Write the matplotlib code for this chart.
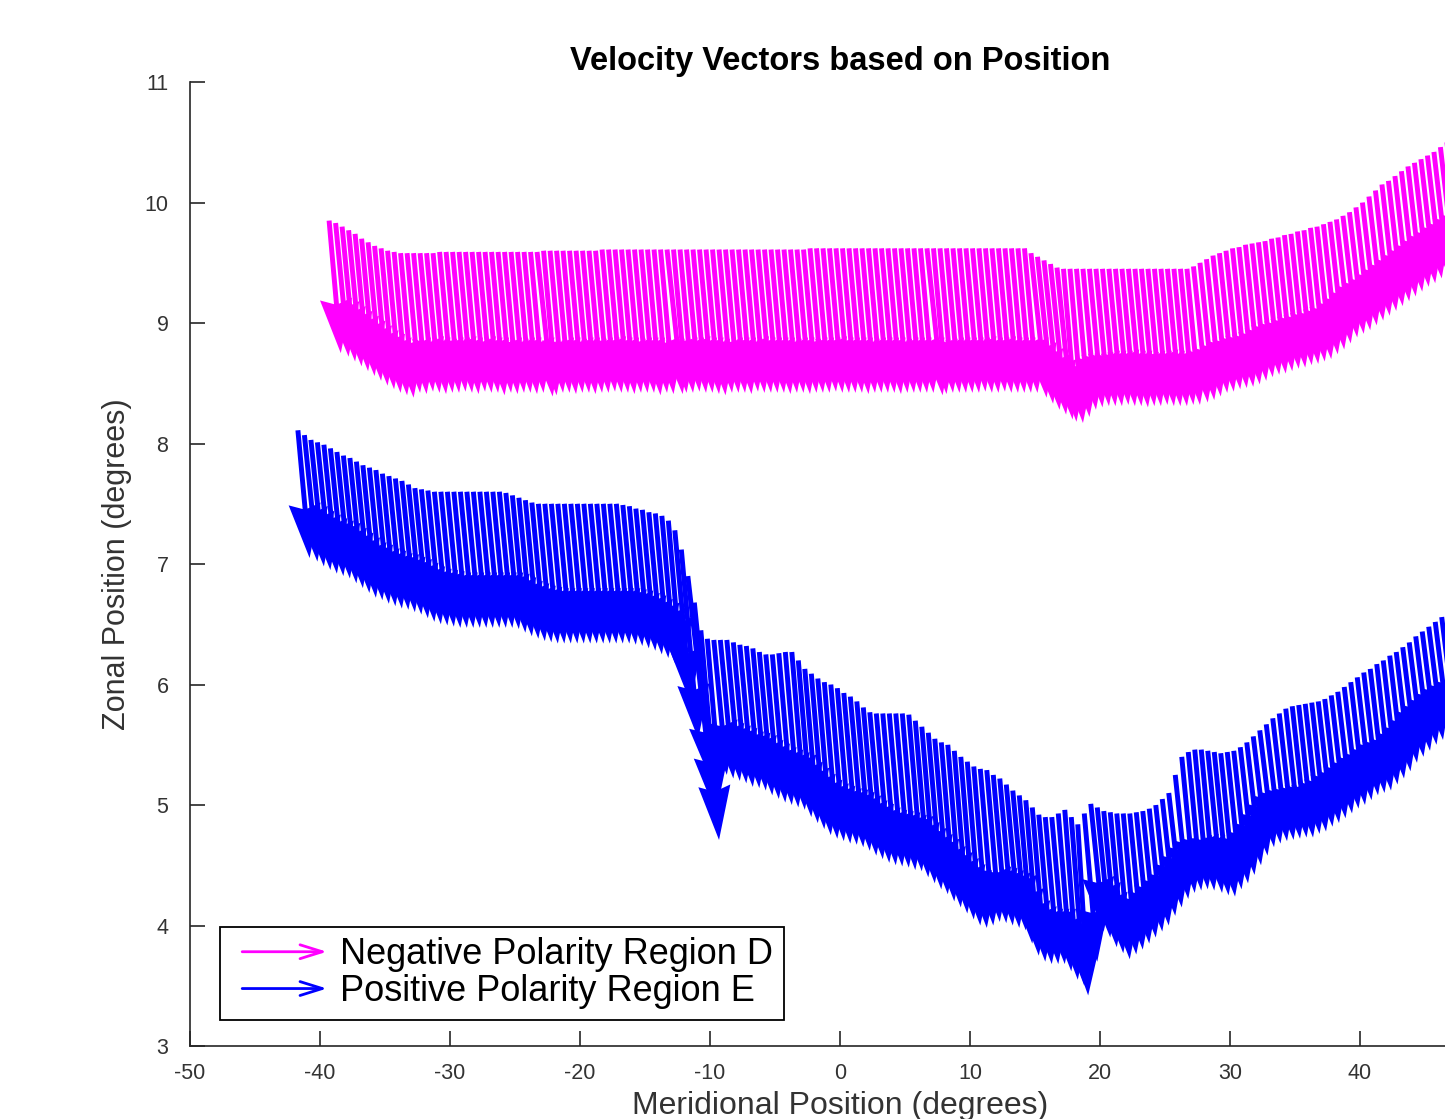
import numpy as np
import matplotlib
matplotlib.use('Agg')
import matplotlib.pyplot as plt
from matplotlib.lines import Line2D
from matplotlib.patches import FancyArrowPatch
from matplotlib.legend_handler import HandlerBase

plt.rcParams['font.family'] = 'Liberation Sans'
plt.rcParams['axes.unicode_minus'] = False

# ---- Negative Polarity Region D (magenta): tail x, tail y, tip y, x drift ----
mag_x = [-39.3, -38.8, -38.3, -37.8, -37.3, -36.8, -36.3, -35.8, -35.3, -34.8,
         -34.3, -33.8, -33.3, -32.8, -32.3, -31.8, -31.3, -30.8, -30.3, -29.8,
         -29.3, -28.8, -28.3, -27.8, -27.3, -26.8, -26.3, -25.8, -25.3, -24.8,
         -24.3, -23.8, -23.3, -22.8, -22.3, -21.8, -21.3, -20.8, -20.3, -19.8,
         -19.3, -18.8, -18.3, -17.8, -17.3, -16.8, -16.3, -15.8, -15.3, -14.8,
         -14.3, -13.8, -13.3, -12.8, -12.3, -11.8, -11.3, -10.8, -10.3, -9.8,
         -9.3, -8.8, -8.3, -7.8, -7.3, -6.8, -6.3, -5.8, -5.3, -4.8,
         -4.3, -3.8, -3.3, -2.8, -2.3, -1.8, -1.3, -0.8, -0.3, 0.2,
         0.7, 1.2, 1.7, 2.2, 2.7, 3.2, 3.7, 4.2, 4.7, 5.2,
         5.7, 6.2, 6.7, 7.2, 7.7, 8.2, 8.7, 9.2, 9.7, 10.2,
         10.7, 11.2, 11.7, 12.2, 12.7, 13.2, 13.7, 14.2, 14.7, 15.2,
         15.7, 16.2, 16.7, 17.2, 17.7, 18.2, 18.7, 19.2, 19.7, 20.2,
         20.7, 21.2, 21.7, 22.2, 22.7, 23.2, 23.7, 24.2, 24.7, 25.2,
         25.7, 26.2, 26.7, 27.2, 27.7, 28.2, 28.7, 29.2, 29.7, 30.2,
         30.7, 31.2, 31.7, 32.2, 32.7, 33.2, 33.7, 34.2, 34.7, 35.2,
         35.7, 36.2, 36.7, 37.2, 37.7, 38.2, 38.7, 39.2, 39.7, 40.2,
         40.7, 41.2, 41.7, 42.2, 42.7, 43.2, 43.7, 44.2, 44.7, 45.2,
         45.7, 46.2, 46.7]
mag_y = [9.85, 9.83, 9.80, 9.77, 9.74, 9.70, 9.67, 9.64, 9.62, 9.60,
         9.59, 9.58, 9.58, 9.58, 9.58, 9.58, 9.58, 9.59, 9.59, 9.59,
         9.59, 9.59, 9.59, 9.59, 9.59, 9.59, 9.59, 9.59, 9.59, 9.59,
         9.59, 9.59, 9.59, 9.60, 9.60, 9.60, 9.60, 9.60, 9.60, 9.60,
         9.60, 9.60, 9.61, 9.61, 9.61, 9.61, 9.61, 9.61, 9.61, 9.61,
         9.61, 9.61, 9.61, 9.61, 9.61, 9.61, 9.61, 9.61, 9.61, 9.61,
         9.61, 9.61, 9.61, 9.61, 9.61, 9.61, 9.61, 9.61, 9.61, 9.61,
         9.61, 9.61, 9.61, 9.61, 9.62, 9.62, 9.62, 9.62, 9.62, 9.62,
         9.62, 9.62, 9.62, 9.62, 9.62, 9.62, 9.62, 9.62, 9.62, 9.62,
         9.62, 9.62, 9.62, 9.62, 9.62, 9.62, 9.62, 9.62, 9.62, 9.62,
         9.62, 9.62, 9.62, 9.62, 9.62, 9.62, 9.62, 9.62, 9.58, 9.55,
         9.52, 9.49, 9.46, 9.45, 9.45, 9.45, 9.45, 9.45, 9.45, 9.45,
         9.45, 9.45, 9.45, 9.45, 9.45, 9.45, 9.45, 9.45, 9.45, 9.45,
         9.45, 9.45, 9.45, 9.47, 9.50, 9.53, 9.56, 9.58, 9.60, 9.62,
         9.63, 9.65, 9.66, 9.67, 9.68, 9.70, 9.71, 9.73, 9.74, 9.76,
         9.77, 9.79, 9.80, 9.82, 9.84, 9.86, 9.89, 9.92, 9.96, 10.00,
         10.05, 10.10, 10.15, 10.18, 10.22, 10.26, 10.30, 10.33, 10.36, 10.39,
         10.42, 10.46, 10.50]
mag_tip = [8.75, 8.72, 8.68, 8.64, 8.60, 8.56, 8.52, 8.48, 8.45, 8.42,
           8.40, 8.38, 8.42, 8.41, 8.43, 8.42, 8.41, 8.42, 8.42, 8.43,
           8.42, 8.41, 8.43, 8.42, 8.42, 8.40, 8.42, 8.41, 8.42, 8.42,
           8.41, 8.42, 8.39, 8.40, 8.42, 8.42, 8.41, 8.42, 8.42, 8.41,
           8.42, 8.42, 8.43, 8.42, 8.42, 8.41, 8.42, 8.42, 8.42, 8.40,
           8.42, 8.41, 8.41, 8.42, 8.42, 8.43, 8.42, 8.42, 8.41, 8.40,
           8.42, 8.42, 8.42, 8.41, 8.43, 8.42, 8.42, 8.42, 8.42, 8.41,
           8.42, 8.42, 8.41, 8.42, 8.42, 8.42, 8.43, 8.42, 8.42, 8.42,
           8.42, 8.41, 8.42, 8.42, 8.42, 8.42, 8.41, 8.42, 8.42, 8.42,
           8.42, 8.42, 8.40, 8.41, 8.42, 8.42, 8.42, 8.42, 8.42, 8.43,
           8.42, 8.42, 8.43, 8.42, 8.42, 8.42, 8.42, 8.42, 8.38, 8.33,
           8.28, 8.24, 8.20, 8.18, 8.17, 8.22, 8.28, 8.30, 8.31, 8.31,
           8.31, 8.32, 8.31, 8.31, 8.30, 8.31, 8.31, 8.32, 8.31, 8.31,
           8.31, 8.32, 8.32, 8.34, 8.36, 8.39, 8.42, 8.43, 8.45, 8.46,
           8.47, 8.49, 8.52, 8.55, 8.57, 8.58, 8.60, 8.62, 8.63, 8.65,
           8.66, 8.68, 8.70, 8.74, 8.78, 8.83, 8.88, 8.91, 8.94, 8.98,
           9.02, 9.06, 9.10, 9.14, 9.18, 9.22, 9.26, 9.30, 9.33, 9.37,
           9.40, 9.44, 9.47]
mag_u = [0.9, 1.0, 1.0, 1.0, 1.0, 1.0, 1.0, 1.0, 1.0, 1.0,
         1.0, 1.0, 1.0, 1.0, 1.0, 1.0, 1.0, 1.0, 1.0, 1.0,
         1.0, 1.0, 1.0, 1.0, 1.0, 1.0, 1.0, 1.0, 1.0, 1.0,
         1.0, 1.0, 1.2, 1.0, 1.0, 1.0, 1.0, 1.0, 1.0, 1.0,
         1.0, 1.0, 1.0, 1.0, 1.0, 1.0, 1.0, 1.0, 1.0, 1.0,
         1.0, 1.0, 1.2, 1.0, 1.0, 1.0, 1.0, 1.0, 1.0, 1.0,
         1.0, 1.0, 1.0, 1.0, 1.0, 1.0, 1.0, 1.0, 1.0, 1.0,
         1.0, 1.0, 1.0, 1.0, 1.0, 1.0, 1.0, 1.0, 1.0, 1.0,
         1.0, 1.0, 1.0, 1.0, 1.0, 1.0, 1.0, 1.0, 1.0, 1.0,
         1.0, 1.0, 1.2, 1.0, 1.0, 1.0, 1.0, 1.0, 1.0, 1.0,
         1.0, 1.0, 1.0, 1.0, 1.0, 1.0, 1.0, 1.0, 1.2, 1.2,
         1.2, 1.2, 1.2, 1.0, 1.0, 1.0, 1.0, 1.0, 1.0, 1.0,
         1.0, 1.0, 1.0, 1.0, 1.0, 1.0, 1.0, 1.0, 1.0, 1.0,
         1.0, 1.0, 1.0, 1.1, 1.1, 1.1, 1.1, 1.1, 1.1, 1.1,
         1.1, 1.1, 1.1, 1.1, 1.1, 1.1, 1.1, 1.1, 1.1, 1.1,
         1.1, 1.1, 1.1, 1.1, 1.1, 1.1, 1.1, 1.1, 1.1, 1.1,
         1.1, 1.1, 1.1, 1.1, 1.1, 1.1, 1.1, 1.1, 1.1, 1.1,
         1.1, 1.1, 1.1]

# ---- Positive Polarity Region E (blue) ----
blu_x = [-41.7, -41.2, -40.7, -40.2, -39.7, -39.2, -38.7, -38.2, -37.7, -37.2,
         -36.7, -36.2, -35.7, -35.2, -34.7, -34.2, -33.7, -33.2, -32.7, -32.2,
         -31.7, -31.2, -30.7, -30.2, -29.7, -29.2, -28.7, -28.2, -27.7, -27.2,
         -26.7, -26.2, -25.7, -25.2, -24.7, -24.2, -23.7, -23.2, -22.7, -22.2,
         -21.7, -21.2, -20.7, -20.2, -19.7, -19.2, -18.7, -18.2, -17.7, -17.2,
         -16.7, -16.2, -15.7, -15.2, -14.7, -14.2, -13.7, -13.2, -12.7, -12.2,
         -11.7, -11.2, -10.7, -10.2, -9.7, -9.2, -8.7, -8.2, -7.7, -7.2,
         -6.7, -6.2, -5.7, -5.2, -4.7, -4.2, -3.7, -3.2, -2.7, -2.2,
         -1.7, -1.2, -0.7, -0.2, 0.3, 0.8, 1.3, 1.8, 2.3, 2.8,
         3.3, 3.8, 4.3, 4.8, 5.3, 5.8, 6.3, 6.8, 7.3, 7.8,
         8.3, 8.8, 9.3, 9.8, 10.3, 10.8, 11.3, 11.8, 12.3, 12.8,
         13.3, 13.8, 14.3, 14.8, 15.3, 15.8, 16.3, 16.8, 17.3, 17.8,
         18.3, 18.8, 19.3, 19.8, 20.3, 20.8, 21.3, 21.8, 22.3, 22.8,
         23.3, 23.8, 24.3, 24.8, 25.3, 25.8, 26.3, 26.8, 27.3, 27.8,
         28.3, 28.8, 29.3, 29.8, 30.3, 30.8, 31.3, 31.8, 32.3, 32.8,
         33.3, 33.8, 34.3, 34.8, 35.3, 35.8, 36.3, 36.8, 37.3, 37.8,
         38.3, 38.8, 39.3, 39.8, 40.3, 40.8, 41.3, 41.8, 42.3, 42.8,
         43.3, 43.8, 44.3, 44.8, 45.3, 45.8, 46.3]
blu_y = [8.11, 8.07, 8.03, 8.01, 7.99, 7.96, 7.93, 7.90, 7.88, 7.85,
         7.82, 7.80, 7.78, 7.75, 7.73, 7.71, 7.69, 7.66, 7.63, 7.62,
         7.61, 7.60, 7.60, 7.60, 7.60, 7.60, 7.60, 7.60, 7.60, 7.60,
         7.60, 7.60, 7.59, 7.57, 7.55, 7.53, 7.51, 7.50, 7.50, 7.50,
         7.50, 7.50, 7.50, 7.50, 7.50, 7.50, 7.50, 7.50, 7.50, 7.50,
         7.49, 7.48, 7.46, 7.45, 7.43, 7.42, 7.40, 7.36, 7.28, 7.12,
         6.90, 6.68, 6.45, 6.38, 6.37, 6.37, 6.37, 6.35, 6.33, 6.32,
         6.30, 6.27, 6.25, 6.25, 6.26, 6.27, 6.27, 6.20, 6.13, 6.09,
         6.05, 6.02, 6.00, 5.97, 5.93, 5.90, 5.86, 5.81, 5.77, 5.76,
         5.76, 5.76, 5.76, 5.76, 5.75, 5.70, 5.65, 5.60, 5.55, 5.52,
         5.50, 5.45, 5.40, 5.36, 5.32, 5.30, 5.29, 5.25, 5.22, 5.17,
         5.12, 5.08, 5.04, 4.98, 4.92, 4.90, 4.90, 4.93, 4.96, 4.90,
         4.84, 4.93, 5.01, 4.98, 4.95, 4.94, 4.93, 4.93, 4.93, 4.94,
         4.95, 4.97, 5.00, 5.05, 5.10, 5.25, 5.40, 5.44, 5.46, 5.46,
         5.45, 5.44, 5.43, 5.44, 5.45, 5.48, 5.52, 5.57, 5.62, 5.67,
         5.72, 5.76, 5.80, 5.82, 5.83, 5.84, 5.85, 5.86, 5.88, 5.91,
         5.94, 5.98, 6.02, 6.06, 6.10, 6.13, 6.17, 6.20, 6.24, 6.27,
         6.31, 6.35, 6.40, 6.44, 6.48, 6.52, 6.56]
blu_tip = [7.05, 7.02, 6.98, 6.95, 6.92, 6.90, 6.88, 6.84, 6.80, 6.76,
           6.72, 6.70, 6.67, 6.65, 6.63, 6.62, 6.60, 6.58, 6.55, 6.52,
           6.50, 6.49, 6.48, 6.47, 6.47, 6.47, 6.47, 6.47, 6.47, 6.47,
           6.47, 6.47, 6.46, 6.43, 6.40, 6.38, 6.36, 6.35, 6.34, 6.34,
           6.34, 6.34, 6.34, 6.34, 6.34, 6.34, 6.34, 6.34, 6.34, 6.34,
           6.33, 6.32, 6.30, 6.28, 6.25, 6.22, 6.18, 6.10, 5.85, 5.55,
           5.20, 4.95, 4.71, 5.10, 5.25, 5.22, 5.20, 5.18, 5.15, 5.14,
           5.12, 5.08, 5.05, 5.02, 5.00, 4.98, 4.96, 4.90, 4.85, 4.80,
           4.75, 4.72, 4.70, 4.68, 4.67, 4.65, 4.62, 4.58, 4.55, 4.52,
           4.50, 4.49, 4.48, 4.46, 4.45, 4.40, 4.35, 4.30, 4.26, 4.20,
           4.15, 4.10, 4.05, 4.00, 3.98, 4.00, 4.03, 4.02, 4.00, 3.98,
           3.96, 3.85, 3.75, 3.70, 3.68, 3.68, 3.68, 3.62, 3.55, 3.50,
           3.42, 3.70, 3.95, 3.90, 3.82, 3.77, 3.72, 3.76, 3.80, 3.85,
           3.90, 3.95, 4.00, 4.08, 4.15, 4.22, 4.27, 4.29, 4.30, 4.29,
           4.27, 4.25, 4.24, 4.30, 4.35, 4.42, 4.50, 4.58, 4.65, 4.68,
           4.70, 4.71, 4.72, 4.73, 4.73, 4.76, 4.78, 4.82, 4.85, 4.89,
           4.93, 4.97, 5.00, 5.04, 5.08, 5.10, 5.12, 5.17, 5.22, 5.28,
           5.35, 5.40, 5.45, 5.50, 5.54, 5.57, 5.60]
blu_u = [0.9, 1.0, 1.0, 1.0, 1.0, 1.0, 1.0, 1.0, 1.0, 1.0,
         1.0, 1.0, 1.0, 1.0, 1.0, 1.0, 1.0, 1.0, 1.0, 1.0,
         1.0, 1.0, 1.0, 1.0, 1.0, 1.0, 1.0, 1.0, 1.0, 1.0,
         1.0, 1.0, 1.0, 1.0, 1.0, 1.0, 1.0, 1.0, 1.0, 1.0,
         1.0, 1.0, 1.0, 1.0, 1.0, 1.0, 1.0, 1.0, 1.0, 1.0,
         1.0, 1.0, 1.0, 1.0, 1.0, 1.0, 1.0, 1.0, 1.2, 1.3,
         1.8, 1.6, 1.4, 1.0, 1.0, 1.0, 1.0, 1.0, 1.0, 1.0,
         1.0, 1.0, 1.0, 1.0, 1.0, 1.0, 1.0, 1.0, 1.0, 1.0,
         1.0, 1.0, 1.0, 1.0, 1.0, 1.0, 1.0, 1.0, 1.0, 1.0,
         1.0, 1.0, 1.0, 1.0, 1.0, 1.0, 1.0, 1.0, 1.0, 1.0,
         1.0, 1.0, 1.0, 1.0, 1.0, 1.0, 1.0, 1.0, 1.0, 1.0,
         1.0, 1.0, 1.0, 1.0, 1.0, 1.0, 1.0, 1.0, 1.0, 1.0,
         0.8, 1.0, 1.0, 1.0, 1.0, 1.0, 1.0, 1.0, 1.0, 1.0,
         1.0, 1.0, 1.0, 1.0, 1.0, 1.0, 1.0, 1.0, 1.0, 1.0,
         1.1, 1.1, 1.1, 1.1, 1.1, 1.1, 1.1, 1.1, 1.1, 1.1,
         1.1, 1.1, 1.1, 1.1, 1.1, 1.1, 1.1, 1.1, 1.1, 1.1,
         1.1, 1.1, 1.1, 1.1, 1.1, 1.1, 1.1, 1.1, 1.1, 1.1,
         1.1, 1.1, 1.1, 1.1, 1.1, 1.1, 1.1]

labels = ['Negative Polarity Region D', 'Positive Polarity Region E']
colors = ['#ff00ff', '#0000ff']


class HandlerArrow(HandlerBase):
    # MATLAB-like quiver legend entry: line with open arrow head
    def create_artists(self, legend, orig_handle, xdescent, ydescent,
                       width, height, fontsize, trans):
        yc = height / 2 - ydescent
        x1 = width - xdescent
        x0 = x1 - 65
        a = FancyArrowPatch((x0, yc), (x1, yc),
                            arrowstyle='->,head_length=16,head_width=5',
                            mutation_scale=1, color=orig_handle.get_color(),
                            lw=2, transform=trans)
        return [a]


fig = plt.figure(figsize=(14.45, 11.19), dpi=100)
ax = fig.add_axes([0.1315, 0.0652, 0.8995, 0.8615])

quiv_kw = dict(angles='xy', scale_units='xy', scale=1, width=0.0038,
               headwidth=6.5, headlength=11, headaxislength=10)

ax.quiver(mag_x, mag_y, mag_u, np.array(mag_tip) - np.array(mag_y),
          color=colors[0], **quiv_kw)
ax.quiver(blu_x, blu_y, blu_u, np.array(blu_tip) - np.array(blu_y),
          color=colors[1], **quiv_kw)

ax.set_xlim(-50, 50)
ax.set_ylim(3, 11)
ax.set_xticks(range(-50, 41, 10))
ax.set_yticks(range(3, 12))
for s in ['top', 'right']:
    ax.spines[s].set_visible(False)
for s in ['left', 'bottom']:
    ax.spines[s].set_linewidth(1.2)
    ax.spines[s].set_color('#262626')
ax.tick_params(direction='in', length=11, width=1.2, labelsize=15.5,
               colors='#262626', labelcolor='#333333')
ax.tick_params(axis='x', pad=12)
ax.tick_params(axis='y', pad=15.5)

ax.set_title('Velocity Vectors based on Position', fontsize=23.5,
             fontweight='bold', pad=9)
ax.set_xlabel('Meridional Position (degrees)', fontsize=23,
              color='#333333', labelpad=5)
ax.set_ylabel('Zonal Position (degrees)', fontsize=22,
              color='#333333', labelpad=9)

handles = [Line2D([], [], color=c) for c in colors]
leg = ax.legend(handles, labels, handler_map={Line2D: HandlerArrow()},
                loc='lower left', bbox_to_anchor=(0.023, 0.027),
                borderaxespad=0, fontsize=26, handlelength=2.74,
                handletextpad=0.28, labelspacing=0.05, borderpad=0.3,
                fancybox=False, framealpha=1)
leg.get_frame().set_edgecolor('black')
leg.get_frame().set_linewidth(1.3)

plt.savefig('out.png', dpi=100)
